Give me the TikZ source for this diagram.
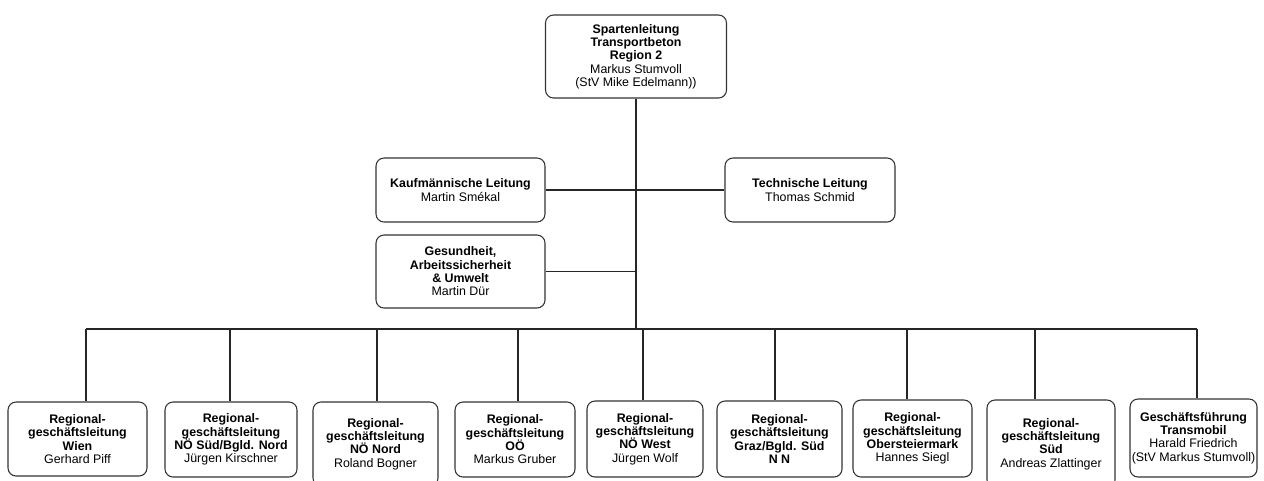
\documentclass[tikz,border=0pt]{standalone}
\usepackage{fontspec}
\setmainfont{Liberation Sans}
\begin{document}
\begin{tikzpicture}[x=0.75pt,y=-0.75pt,
  box/.style 2 args={draw=black!80, line width=0.8pt, rounded corners=6pt, align=center,
    font=\fontsize{9.3}{10}\selectfont, inner sep=0pt,
    minimum width=#1*0.75pt, minimum height=#2*0.75pt},
  conn/.style={draw=black!85, line width=0.8pt}]
\useasboundingbox (0,0) rectangle (1264,480);
\fill[white] (0,0) rectangle (1264,480);

\node[box={181}{83}] (top) at (636,56.5)
  {\textbf{Spartenleitung}\\\textbf{Transportbeton}\\\textbf{Region 2}\\Markus Stumvoll\\(StV Mike Edelmann))};
\node[box={169}{64}] (kauf) at (460.5,190) {\textbf{Kaufmännische Leitung}\\Martin Smékal};
\node[box={170}{64}] (tech) at (810,190) {\textbf{Technische Leitung}\\Thomas Schmid};
\node[box={169}{73}] (ges) at (460.5,271.5)
  {\textbf{Gesundheit,}\\\textbf{Arbeitssicherheit}\\\textbf{\& Umwelt}\\Martin Dür};

\node[box={139}{74}] (r1) at (77.5,439) {\textbf{Regional-}\\\textbf{geschäftsleitung}\\\textbf{Wien}\\Gerhard Piff};
\node[box={132}{75}] (r2) at (231,439.5) {\textbf{Regional-}\\\textbf{geschäftsleitung}\\\textbf{NÖ Süd/Bgld. Nord}\\Jürgen Kirschner};
\node[box={125}{84}] (r3) at (375.5,444) {\textbf{Regional-}\\\textbf{geschäftsleitung}\\\textbf{NÖ Nord}\\Roland Bogner};
\node[box={120}{75}] (r4) at (515,439.5) {\textbf{Regional-}\\\textbf{geschäftsleitung}\\\textbf{OÖ}\\Markus Gruber};
\node[box={116}{76}] (r5) at (645,439) {\textbf{Regional-}\\\textbf{geschäftsleitung}\\\textbf{NÖ West}\\Jürgen Wolf};
\node[box={125}{76}] (r6) at (779.5,439) {\textbf{Regional-}\\\textbf{geschäftsleitung}\\\textbf{Graz/Bgld. Süd}\\\textbf{N N}};
\node[box={119}{77}] (r7) at (912.5,438.5) {\textbf{Regional-}\\\textbf{geschäftsleitung}\\\textbf{Obersteiermark}\\Hannes Siegl};
\node[box={128}{88}] (r8) at (1051,444) {\textbf{Regional-}\\\textbf{geschäftsleitung}\\\textbf{Süd}\\Andreas Zlattinger};
\node[box={127}{78}] (r9) at (1193.5,438) {\textbf{Geschäftsführung}\\\textbf{Transmobil}\\Harald Friedrich\\(StV Markus Stumvoll)};

\coordinate (busM) at (636,329);
\coordinate (busL) at (86,329);
\coordinate (busR) at (1197,329);
\coordinate (d1) at (86,329);
\coordinate (d2) at (230,329);
\coordinate (d3) at (377,329);
\coordinate (d4) at (518,329);
\coordinate (d5) at (643,329);
\coordinate (d6) at (775,329);
\coordinate (d7) at (907,329);
\coordinate (d8) at (1035,329);
\coordinate (d9) at (1197,329);

\draw[conn] (top.south) -- (busM);
\draw[conn] (kauf.east) -- (tech.west);
\draw[conn] (ges.east) -- (ges.east -| busM);
\draw[conn] (busL) -- (busR);
\foreach \i in {1,...,9} {
  \draw[conn] (d\i) -- (d\i |- r\i.north);
}
\end{tikzpicture}
\end{document}
